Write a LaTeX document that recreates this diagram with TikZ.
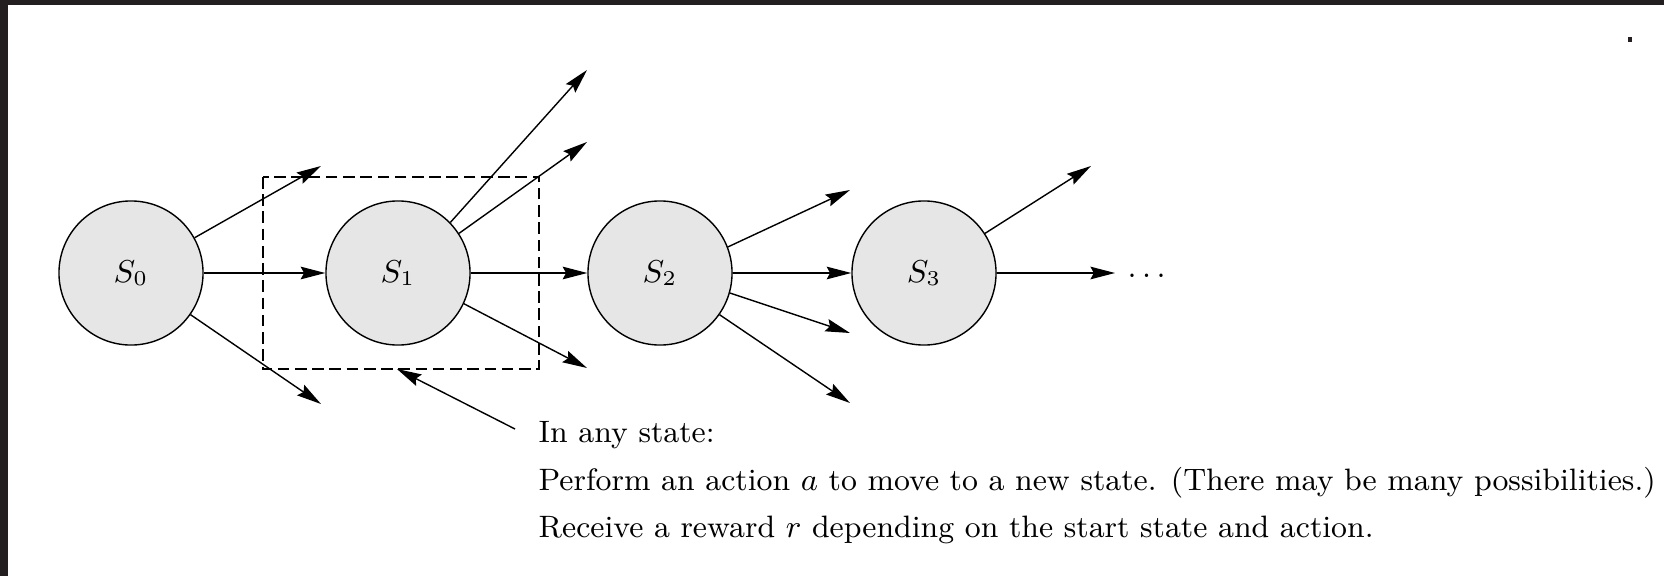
\documentclass[tikz,border=0pt]{standalone}
\usetikzlibrary{arrows.meta, positioning}

\definecolor{frame}{HTML}{231F20}
\definecolor{statefill}{HTML}{E6E6E6}

\begin{document}
\begin{tikzpicture}[x=0.01cm, y=-0.01cm, line width=0.4pt,
    >={Stealth[length=7pt,width=3.6pt,inset=1pt]},
    state/.style={circle, draw, fill=statefill, minimum size=1.44cm, inner sep=0pt, font=\fontsize{9}{10}\selectfont},
    note/.style={anchor=base west, inner sep=0pt, font=\fontsize{8.8}{11}\selectfont}]
  \useasboundingbox (0,0) rectangle (1664,576);
  \fill[frame] (0,0) rectangle (1664,5);
  \fill[frame] (0,0) rectangle (8,576);
  \fill[frame] (1628,37) rectangle (1632,42);

  % states
  \node[state] (s0) at (131,273) {$S_0$};
  \node[state] (s1) at (398,273) {$S_1$};
  \node[state] (s2) at (660,273) {$S_2$};
  \node[state] (s3) at (924,273) {$S_3$};
  \node[anchor=west, inner sep=3.4pt, font=\fontsize{9}{10}\selectfont] (dots) at (1115,276) {$\ldots$};

  % box round S1
  \draw[dash pattern=on 3.3pt off 1.6pt] (263,177) rectangle (539,369);

  % actions
  \draw[->] (s0.29) -- (321,166);
  \draw[->] (s0) -- (s1);
  \draw[->] (s0.-35) -- (321,404);
  \draw[->] (s1.44) -- (587,70);
  \draw[->] (s1.33) -- (587,142);
  \draw[->] (s1) -- (s2);
  \draw[->] (s1.-25) -- (587,368);
  \draw[->] (s2.21) -- (850,190);
  \draw[->] (s2) -- (s3);
  \draw[->] (s2.-16) -- (850,333);
  \draw[->] (s2.-35) -- (850,403);
  \draw[->] (s3.33) -- (1091,166);
  \draw[->] (s3) -- (dots.west |- s3);

  % note
  \node[note] (note1) at (538,442) {In any state:};
  \node[note] (note2) at (538,490) {Perform an action $a$ to move to a new state. (There may be many possibilities.)};
  \node[note] (note3) at (538,537) {Receive a reward $r$ depending on the start state and action.};
  \coordinate (tip) at (397,369);
  \coordinate (callout) at (515,429);
  \draw[->] (callout) -- (tip);
\end{tikzpicture}
\end{document}
